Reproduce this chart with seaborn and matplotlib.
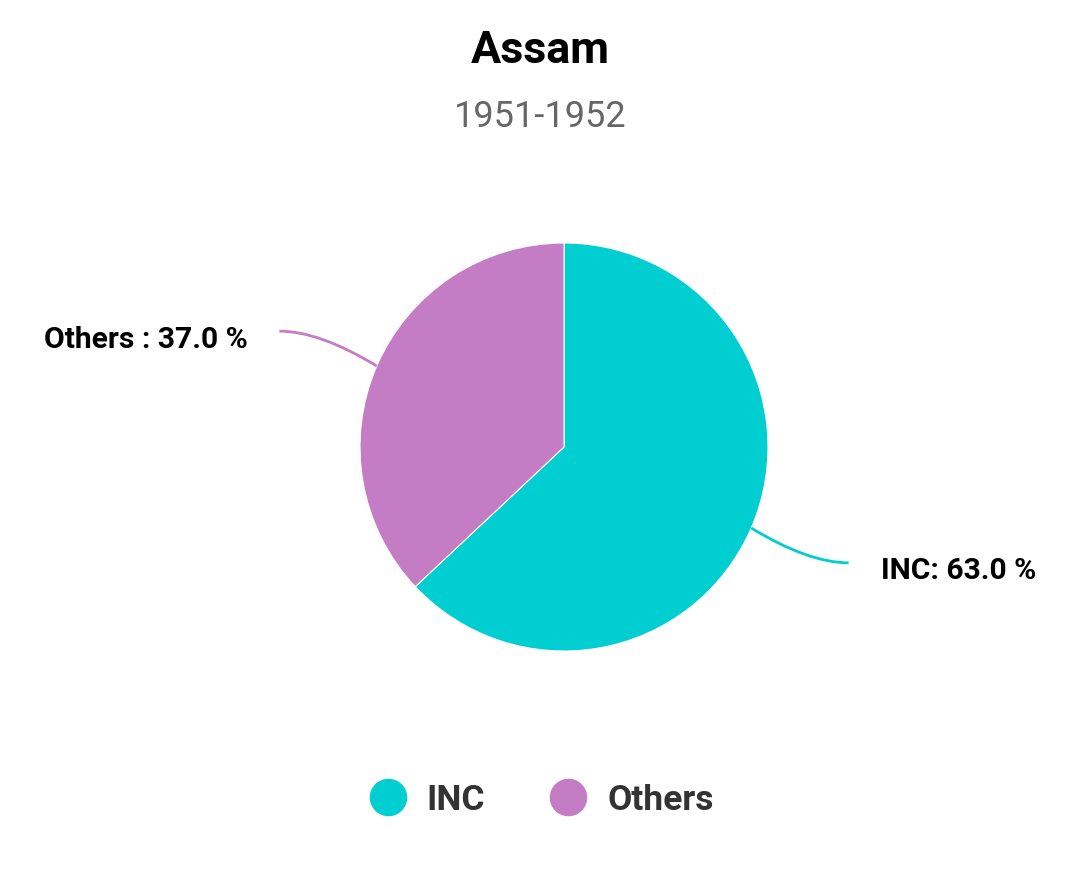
import numpy as np
import matplotlib
matplotlib.use("Agg")
import matplotlib.pyplot as plt
import seaborn as sns
from matplotlib.path import Path
from matplotlib.patches import PathPatch
from matplotlib.lines import Line2D

# data
parties = ["INC", "Others"]
shares = [63.0, 37.0]
label_fmt = ["{}: {:.1f} %", "{} : {:.1f} %"]
colors = ["#00CED1", "#C47CC4"]
title = "Assam"
subtitle = "1951-1952"

sns.set_theme(style="white")
plt.rcParams['font.family'] = ['Roboto', 'DejaVu Sans']

W, H = 1080, 882
fig = plt.figure(figsize=(W / 100, H / 100), dpi=100)
ax = fig.add_axes([0, 0, 1, 1])

cx, cy, r = 564, H - 447, 204
wedges, _ = ax.pie(shares, colors=colors, startangle=90, counterclock=False,
                   center=(cx, cy), radius=r, frame=True,
                   wedgeprops=dict(linewidth=0.8, edgecolor="white"))
ax.set_xlim(0, W)
ax.set_ylim(0, H)
ax.set_aspect("equal")
ax.axis("off")

# leader lines + labels
for w, name, val, fmt, col in zip(wedges, parties, shares, label_fmt, colors):
    mid = np.deg2rad((w.theta1 + w.theta2) / 2)
    d = np.array([np.cos(mid), np.sin(mid)])
    start = np.array([cx, cy]) + r * d
    end = np.array([cx + 1.52 * r * d[0], cy + 1.43 * r * d[1]])
    side = np.sign(d[0])
    ctrl = np.array([end[0] - side * 40, end[1]])
    path = Path([start, ctrl, end], [Path.MOVETO, Path.CURVE3, Path.CURVE3])
    ax.add_patch(PathPatch(path, fill=False, edgecolor=col, lw=2))
    ax.text(end[0] + side * 32, end[1] - 16.5, fmt.format(name, val),
            ha="left" if side > 0 else "right", va="baseline",
            fontsize=21.6, fontweight="bold", color="black")

fig.text(0.5, 1 - 63 / H, title, ha="center", va="baseline",
         fontsize=32.3, fontweight="bold", color="black")
fig.text(0.5, 1 - 127 / H, subtitle, ha="center", va="baseline",
         fontsize=26, color="#666666")

handles = [Line2D([], [], marker="o", linestyle="none", markersize=26,
                  markerfacecolor=c, markeredgecolor=c) for c in colors]
leg = fig.legend(handles, parties, loc="center", bbox_to_anchor=(542 / W, 1 - 800 / H),
                 ncol=2, frameon=False, fontsize=25.5, handlelength=1.0,
                 handletextpad=0.6, columnspacing=1.85)
for t in leg.get_texts():
    t.set_color("#333333")
    t.set_fontweight("bold")

fig.savefig("out.png", dpi=100, facecolor="white")
